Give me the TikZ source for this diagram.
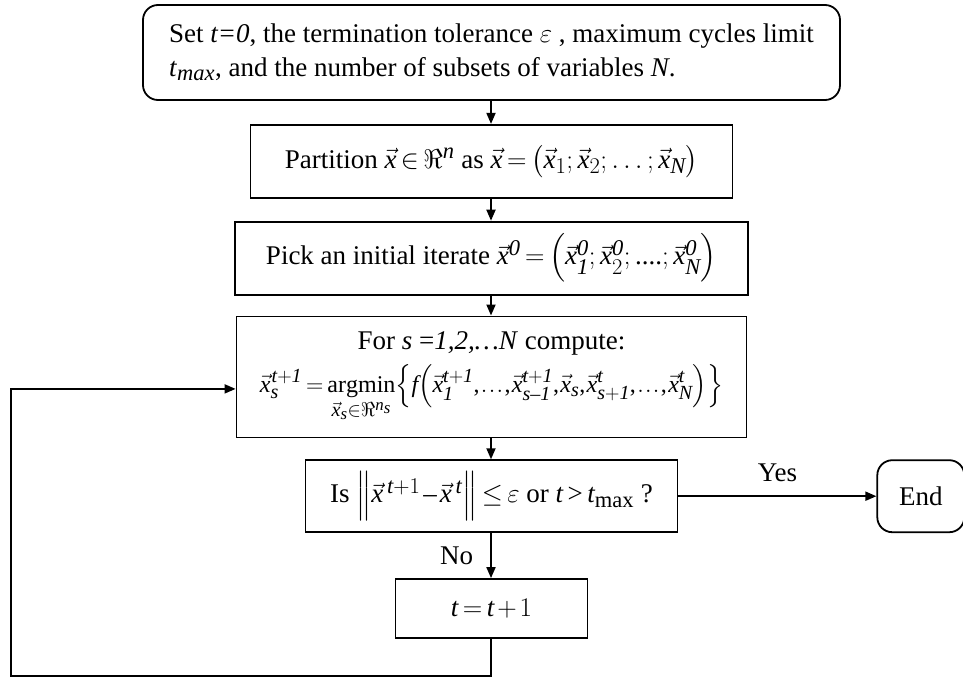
\RequirePackage{fix-cm}
\documentclass[tikz,border=0pt]{standalone}
\usepackage{amsmath}
\usepackage{amssymb}
\usepackage{fontspec}
\setmainfont{Liberation Serif}
\usepackage[italic]{mathastext}
\usepackage{tikz}
\usetikzlibrary{
  arrows.meta,
  positioning,
  calc
}
\medmuskip=2mu
\thickmuskip=3mu
\tikzset{
  cdnode/.style={
    draw, line width=1.8pt, align=center, inner xsep=2pt, inner ysep=0pt,
    font=\fontsize{27}{34}\selectfont
  },
  cdbox/.style={cdnode},
  cdterm/.style={cdnode, rounded corners=15pt},
  flow/.style={-{Stealth[length=11pt, width=9pt, inset=0pt]}, line width=1.8pt},
  tag/.style={font=\fontsize{27}{30}\selectfont, inner sep=1pt}
}

\begin{document}
\begin{tikzpicture}
  \useasboundingbox (0,0) rectangle (963pt,-677pt);
  \coordinate (col) at (491pt,0);
  \coordinate (corner) at (11pt,-676pt);

  \node[cdterm, minimum width=697pt, minimum height=95pt, align=left] (init) at (491.5pt,-52.5pt)
    {Set \textit{t=0}, the termination tolerance $\varepsilon$ , maximum cycles limit\\
     \textit{t}\textsubscript{\textit{max}}, and the number of subsets of variables \textit{N}.};
  \node[cdbox, minimum width=482pt, minimum height=73pt, below=23pt of init] (part)
    {Partition $\vec{x}\in\Re^n$ as $\vec{x}=\bigl(\vec{x}_1;\vec{x}_2;\ldots;\vec{x}_N\bigr)$};
  \node[cdbox, minimum width=513pt, minimum height=73pt, below=22pt of part] (start)
    {Pick an initial iterate $\vec{x}^{\mathit{0}}=\Bigl(\vec{x}_{\mathit{1}}^{\mathit{0}};\vec{x}_2^{\mathit{0}};....;\vec{x}_N^{\mathit{0}}\Bigr)$};
  \node[cdbox, minimum width=510pt, minimum height=121pt, below=20pt of start] (compute)
    {For $s$ =\textit{1,2,\ldots N} compute:\\[9pt]
     \scalebox{0.89}{$\thinmuskip=1mu\displaystyle\vec{x}_s^{\,t+\mathit{1}}=\operatorname*{argmin}_{\vec{x}_s\in\Re^{n_s}}\Bigl\{f\Bigl(\vec{x}_{\mathit{1}}^{t+\mathit{1}},\ldots,\vec{x}_{s-\mathit{1}}^{t+\mathit{1}},\vec{x}_s,\vec{x}_{s+\mathit{1}}^{t},\ldots,\vec{x}_N^{t}\Bigr)\Bigr\}$}};
  \node[cdbox, minimum width=372pt, minimum height=72pt, below=21pt of compute] (check)
    {Is $\Bigl\|\vec{x}^{\,t+1}-\vec{x}^{\,t}\Bigr\|\le\varepsilon$ or $t>t_{\max}$ ?};
  \node[cdbox, minimum width=192pt, minimum height=59pt, below=45pt of check] (inc)
    {$t=t+1$};
  \node[cdterm, minimum width=87pt, minimum height=72pt, right=198pt of check] (stop)
    {End};

  \draw[flow] (init.south -| col) -- (part.north -| col);
  \draw[flow] (part.south -| col) -- (start.north -| col);
  \draw[flow] (start.south -| col) -- (compute.north -| col);
  \draw[flow] (compute.south -| col) -- (check.north -| col);
  \draw[flow] (check.east) -- node[tag, midway, above=13pt] {Yes} (stop.west);
  \draw[flow] (check.south -| col) -- node[tag, midway, left=16pt] {No} (inc.north -| col);
  \draw[flow] (inc.south -| col) |- (corner) |- ([yshift=-12pt]compute.west);
\end{tikzpicture}
\end{document}
